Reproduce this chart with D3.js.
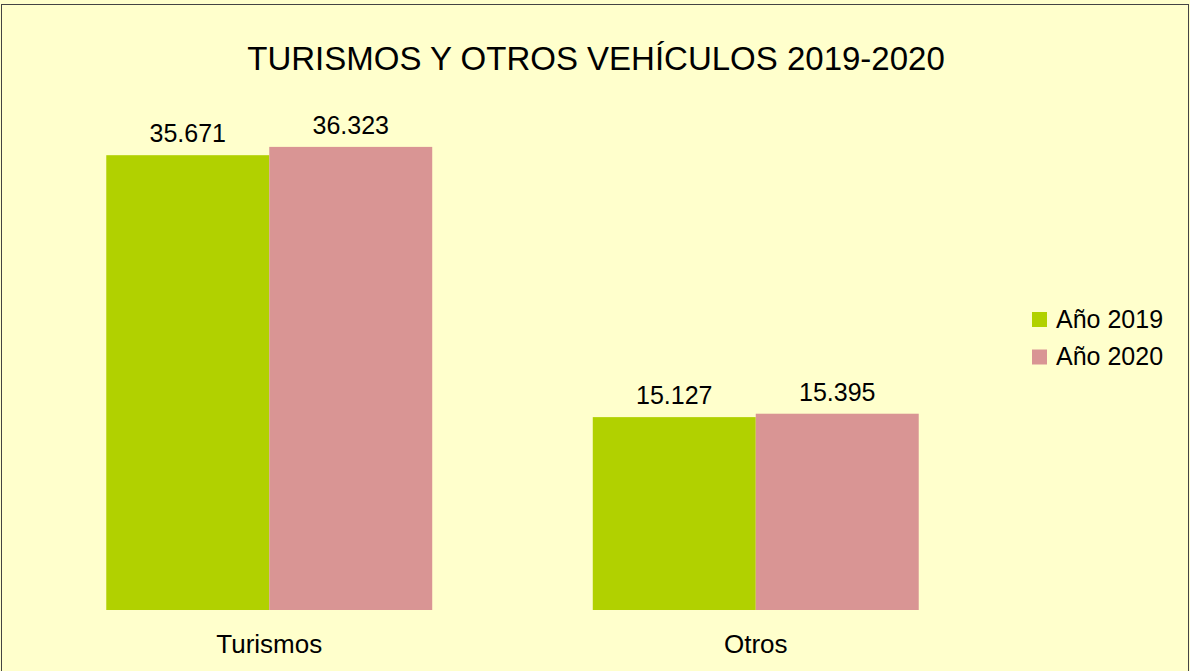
<!DOCTYPE html>
<html>
<head>
<meta charset="utf-8">
<script src="https://cdn.jsdelivr.net/npm/d3@7"></script>
<style>
  html, body { margin: 0; padding: 0; background: #ffffcc; }
  text { font-family: "Liberation Sans", Arial, sans-serif; fill: #000; }
</style>
</head>
<body>
<div id="chart"></div>
<script>
// データ
const categories = ["Turismos", "Otros"];
const seriesNames = ["Año 2019", "Año 2020"];
const values2019 = [35671, 15127];
const values2020 = [36323, 15395];
const valueLabels2019 = ["35.671", "15.127"];
const valueLabels2020 = ["36.323", "15.395"];
const colors = ["#b1d100", "#d99594"];
const title = "TURISMOS Y OTROS VEHÍCULOS 2019-2020";

const width = 1190;
const height = 671;

const chart = () => {
    const svg = d3.create("svg")
        .attr("width", width)
        .attr("height", height)
        .attr("viewBox", [0, 0, width, height])
    ;

    // 背景と枠
    svg.append("rect")
        .attr("x", 1.5).attr("y", 4.5)
        .attr("width", 1187).attr("height", 700)
        .attr("fill", "#ffffcc")
        .attr("stroke", "#444")
        .attr("stroke-width", 1)
    ;

    svg.append("text")
        .attr("x", 596).attr("y", 70)
        .attr("text-anchor", "middle")
        .attr("font-size", 33)
        .text(title)
    ;

    const x0 = d3.scaleBand()
        .domain(categories)
        .range([26, 999])
        .paddingInner(0.33)
        .paddingOuter(0.165)
    ;
    const x1 = d3.scaleBand()
        .domain(seriesNames)
        .range([0, x0.bandwidth()])
    ;
    const y = d3.scaleLinear()
        .domain([0, 40000])
        .range([610, 100])
    ;

    const series = [values2019, values2020];
    const labels = [valueLabels2019, valueLabels2020];

    const rows = categories.map((c, i) => seriesNames.map((s, j) => ({
        cat: c, name: s, value: series[j][i], label: labels[j][i], color: colors[j]
    })));

    const g = svg.append("g");
    const groups = g.selectAll("g")
        .data(rows)
        .join("g")
            .attr("transform", (d, i) => `translate(${x0(categories[i])},0)`)
    ;

    groups.selectAll("rect")
        .data(d => d)
        .join("rect")
            .attr("x", d => x1(d.name))
            .attr("y", d => y(d.value))
            .attr("width", x1.bandwidth())
            .attr("height", d => y(0) - y(d.value))
            .attr("fill", d => d.color)
    ;

    groups.selectAll("text")
        .data(d => d)
        .join("text")
            .attr("x", d => x1(d.name) + x1.bandwidth() / 2)
            .attr("y", d => y(d.value) - 13)
            .attr("text-anchor", "middle")
            .attr("font-size", 25)
            .text(d => d.label)
    ;

    // カテゴリ軸のラベル（軸線なし）
    svg.append("g")
        .selectAll("text")
        .data(categories)
        .join("text")
            .attr("x", d => x0(d) + x0.bandwidth() / 2)
            .attr("y", 653)
            .attr("text-anchor", "middle")
            .attr("font-size", 26)
            .text(d => d)
    ;

    // 凡例
    const legend = svg.append("g")
        .attr("transform", "translate(1032,312)");
    const items = legend.selectAll("g")
        .data(seriesNames)
        .join("g")
            .attr("transform", (d, i) => `translate(0,${i * 37.5})`)
    ;
    items.append("rect")
        .attr("width", 15).attr("height", 15)
        .attr("fill", (d, i) => colors[i])
    ;
    items.append("text")
        .attr("x", 24).attr("y", 15.5)
        .attr("font-size", 25)
        .text(d => d)
    ;

    return svg.node();
};

document.getElementById("chart").append(chart());
</script>
</body>
</html>
